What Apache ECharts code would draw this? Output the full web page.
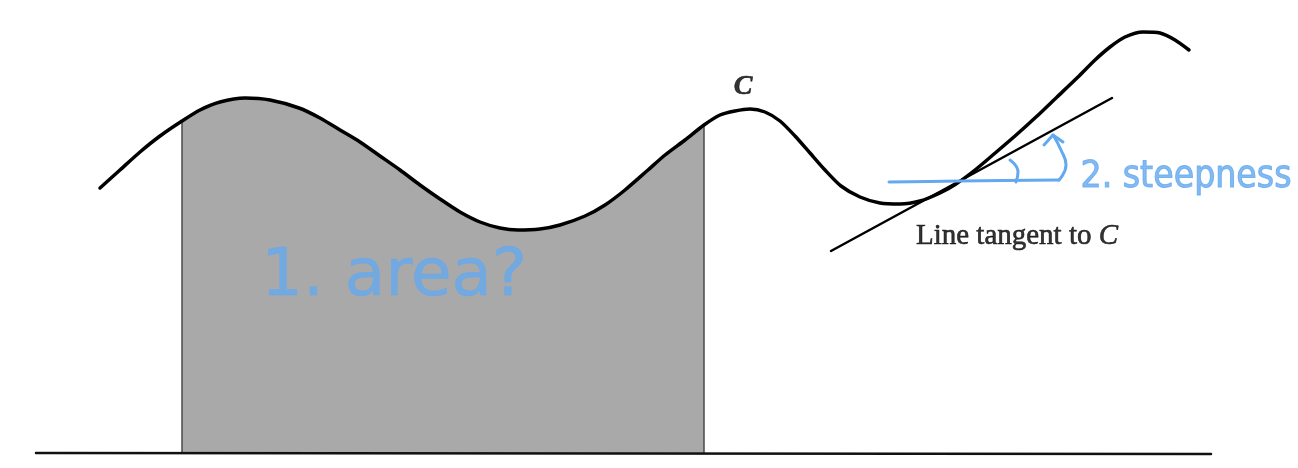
<!DOCTYPE html>
<html>
<head>
<meta charset="utf-8">
<script src="https://cdn.jsdelivr.net/npm/echarts@6/dist/echarts.min.js"></script>
<style>
  html, body { margin: 0; padding: 0; background: #fff; }
  #main { width: 1298px; height: 468px; }
</style>
</head>
<body>
<div id="main"></div>
<script>
// curve C, heights measured up from the base line
var curveX = [100, 120, 140, 160, 182, 200, 220, 245, 270, 299, 320, 340, 360, 380, 400, 420, 440, 460,
              480, 500, 518, 540, 560, 585, 605, 625, 648, 665, 685, 704, 720, 735, 750, 765, 780, 795,
              810, 825, 841, 860, 880, 900, 920, 940, 956, 975, 994, 1015, 1036, 1057, 1078, 1095, 1110,
              1125, 1143, 1160, 1175, 1189];
var curveY = [265, 283, 301, 317, 332, 343, 351, 355, 353, 345, 335, 323, 311, 297, 283, 268, 254, 241,
              231, 225, 223, 224, 228, 237, 248, 263, 283, 298, 313, 328, 338, 342, 344, 341, 332, 317,
              300, 283, 267, 256, 250, 249, 252, 260, 269, 283, 299, 317, 336, 356, 376, 393, 406,
              416, 421, 420, 413, 403];

// shaded region limits
var areaFrom = 182;
var areaTo = 704;

var baseLine = [[36, 0], [1211, -1]];
var tangentLine = [[831, 202], [1112, 355]];

// hand-drawn blue marks
var blueFlat = [[889, 271], [960, 272], [1059, 273]];
var blueAngle = [[1010, 293], [1018, 281], [1016, 271]];
var blueArrow = [[1059, 273], [1066, 288], [1061, 303], [1053, 318]];
var blueHead = [[1044, 308], [1053, 318], [1063, 311]];

var printLabels = [
  { name: 'C', value: [743, 366] },
  { name: 'Line tangent to C', value: [1017, 217] }
];
var handLabels = [
  { name: '1. area?', value: [394, 175], size: 66, font: 'DejaVu Sans', stroke: 0.5 },
  { name: '2. steepness', value: [1186, 276], size: 37, font: 'DejaVu Sans Condensed', stroke: 1 }
];

var curve = curveX.map(function (x, i) { return [x, curveY[i]]; });
var shaded = curve.filter(function (p) { return p[0] >= areaFrom && p[0] <= areaTo; });
var leftEdge = [[areaFrom, 0], shaded[0]];
var rightEdge = [[areaTo, 0], shaded[shaded.length - 1]];

var blue = '#64a9ef';

function plain(data, color, width, smooth, z) {
  return {
    type: 'line', data: data, symbol: 'none', smooth: smooth || false, z: z || 3,
    silent: true, animation: false,
    lineStyle: { color: color, width: width, cap: 'round', join: 'round' }
  };
}

var chart = echarts.init(document.getElementById('main'));
chart.setOption({
  backgroundColor: '#fff',
  animation: false,
  grid: { left: 0, right: 0, top: 0, bottom: 0 },
  xAxis: { type: 'value', min: 0, max: 1298, show: false },
  yAxis: { type: 'value', min: -15, max: 453, show: false },
  series: [
    {
      type: 'line', data: shaded, symbol: 'none', smooth: 0.25, z: 1,
      lineStyle: { width: 0 },
      areaStyle: { color: '#a9a9a9', opacity: 1, origin: 0 }
    },
    plain(leftEdge, '#4a4a4a', 1.5, false, 2),
    plain(rightEdge, '#4a4a4a', 1.5, false, 2),
    plain(baseLine, '#111', 2.5, false, 3),
    plain(curve, '#000', 3.5, 0.25, 4),
    plain(tangentLine, '#000', 2.5, false, 4),
    plain(blueFlat, blue, 3, 0.3, 5),
    plain(blueAngle, blue, 3, 0.5, 5),
    plain(blueArrow, blue, 3, 0.5, 5),
    plain(blueHead, blue, 3, false, 5),
    {
      type: 'scatter', data: printLabels, symbolSize: 1, z: 6,
      itemStyle: { color: 'transparent' },
      label: {
        show: true, position: 'inside',
        formatter: function (p) {
          return p.name === 'C' ? '{c|C}' : 'Line tangent to {i|C}';
        },
        color: '#000', fontFamily: 'Liberation Serif', fontSize: 29,
        textBorderColor: '#000', textBorderWidth: 0.6,
        rich: {
          c: { fontFamily: 'Liberation Serif', fontStyle: 'italic', fontWeight: 'bold', fontSize: 28, color: '#000' },
          i: { fontFamily: 'Liberation Serif', fontStyle: 'italic', fontSize: 29, color: '#000' }
        }
      }
    },
    {
      type: 'scatter', symbolSize: 1, z: 6,
      data: handLabels.map(function (d) {
        return {
          name: d.name, value: d.value,
          label: { fontSize: d.size, fontFamily: d.font, textBorderWidth: d.stroke }
        };
      }),
      itemStyle: { color: 'transparent' },
      label: {
        show: true, position: 'inside', formatter: '{b}',
        color: blue, fontWeight: 'normal', textBorderColor: blue
      }
    }
  ]
});
</script>
</body>
</html>
